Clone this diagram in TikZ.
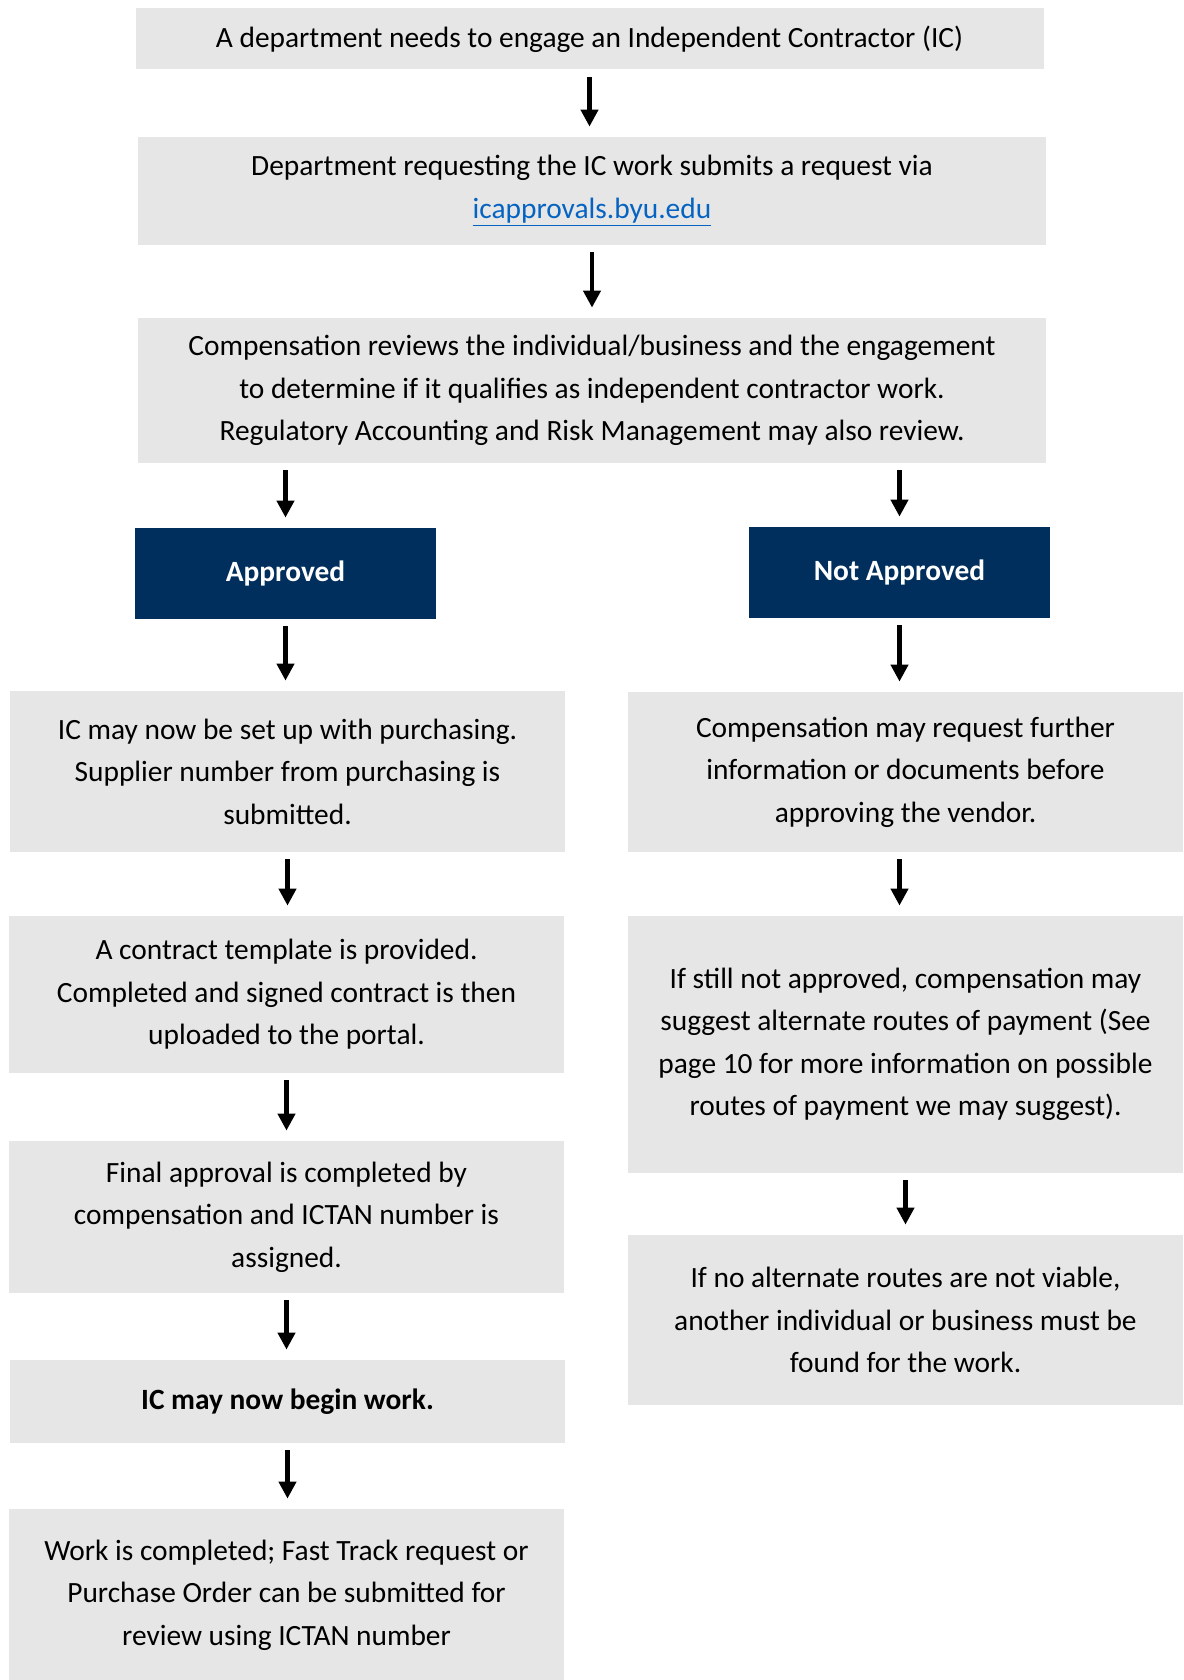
\documentclass[tikz,border=0pt]{standalone}
\usepackage{fontspec}
\setmainfont{Carlito}
\usetikzlibrary{arrows.meta}
\definecolor{boxgray}{HTML}{E7E6E6}
\definecolor{byunavy}{HTML}{002E5D}
\definecolor{linkblue}{HTML}{0563C1}

\begin{document}
\begin{tikzpicture}[
  x=0.5pt, y=-0.5pt,
  box/.style={fill=boxgray, align=center, inner sep=0pt, minimum width=277.5pt, font=\fontsize{14.7}{21.2}\selectfont},
  wide/.style={box, minimum width=454pt},
  head/.style={fill=byunavy, text=white, align=center, inner sep=0pt, minimum width=150.5pt, minimum height=45.5pt, font=\fontsize{14.7}{21.2}\selectfont\bfseries},
  arrow/.style={-{Triangle[length=8.5pt, width=8.5pt]}, line width=2.1pt, shorten <=3.5pt, shorten >=5pt}
]
\useasboundingbox (0,0) rectangle (1183,1680);

% top column
\node[wide, minimum height=30.5pt] (top) at (589.5,39) {A department needs to engage an Independent Contractor (IC)};
\node[wide, minimum height=54pt] (request) at (592,191) {Department requesting the IC work submits a request via\\\textcolor{linkblue}{\underline{icapprovals.byu.edu}}};
\node[wide, minimum height=72.5pt] (review) at (592,390.5) {Compensation reviews the individual/business and the engagement\\to determine if it qualifies as independent contractor work.\\Regulatory Accounting and Risk Management may also review.};

% decision
\node[head] (approved) at (285.5,573.5) {Approved};
\node[head] (notapproved) at (899.5,572.5) {Not Approved};

% approved branch
\node[box, minimum height=80.5pt] (setup) at (287.5,771.5) {IC may now be set up with purchasing.\\Supplier number from purchasing is\\submitted.};
\node[box, minimum height=78.5pt] (contract) at (286.5,994.5) {A contract template is provided.\\Completed and signed contract is then\\uploaded to the portal.};
\node[box, minimum height=76pt] (final) at (286.5,1217) {Final approval is completed by\\compensation and ICTAN number is\\assigned.};
\node[box, minimum height=41.5pt, font=\fontsize{14.7}{21.2}\selectfont\bfseries] (begin) at (287.5,1401.5) {IC may now begin work.};
\node[box, minimum height=86pt] (complete) at (286.5,1595) {Work is completed; Fast Track request or\\Purchase Order can be submitted for\\review using ICTAN number};

% not approved branch
\node[box, minimum height=80pt] (moreinfo) at (905.5,772) {Compensation may request further\\information or documents before\\approving the vendor.};
\node[box, minimum height=128.5pt] (alternate) at (905.5,1044.5) {If still not approved, compensation may\\suggest alternate routes of payment (See\\page 10 for more information on possible\\routes of payment we may suggest).};
\node[box, minimum height=85pt] (noalt) at (905.5,1320) {If no alternate routes are not viable,\\another individual or business must be\\found for the work.};

\draw[arrow] (top.south) -- (top.south |- request.north);
\draw[arrow] (request.south) -- (request.south |- review.north);
\draw[arrow] (approved.north |- review.south) -- (approved.north);
\draw[arrow] (notapproved.north |- review.south) -- (notapproved.north);
\draw[arrow] (approved.south) -- (approved.south |- setup.north);
\draw[arrow] (setup.south) -- (setup.south |- contract.north);
\draw[arrow] (contract.south) -- (contract.south |- final.north);
\draw[arrow] (final.south) -- (final.south |- begin.north);
\draw[arrow] (begin.south) -- (begin.south |- complete.north);
\draw[arrow] (notapproved.south) -- (notapproved.south |- moreinfo.north);
\draw[arrow] (notapproved.south |- moreinfo.south) -- (notapproved.south |- alternate.north);
\draw[arrow] (alternate.south) -- (alternate.south |- noalt.north);
\end{tikzpicture}
\end{document}
